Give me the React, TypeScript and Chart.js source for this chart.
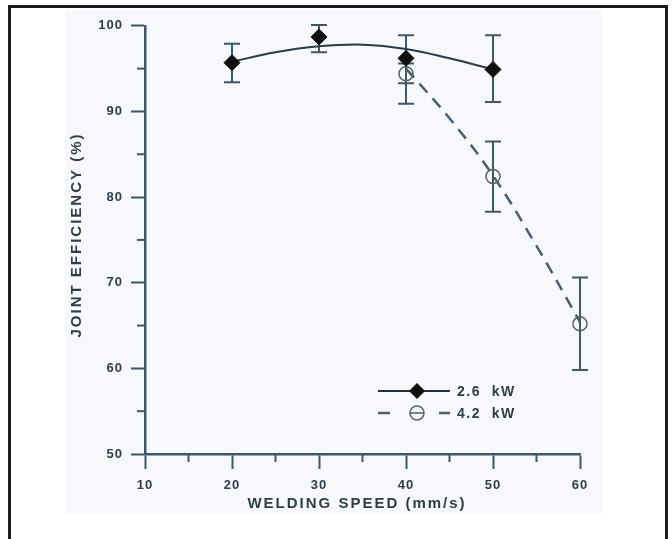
import React, { useEffect, useRef } from "react";
import { Chart, registerables } from "chart.js";

Chart.register(...registerables);

// ---- data ----
const speeds26 = [20, 30, 40, 50];
const eff26 = [95.7, 98.7, 96.2, 94.9];
const err26Hi = [97.9, 100.1, 98.9, 98.9];
const err26Lo = [93.4, 96.9, 90.9, 91.1];

const speeds42 = [40, 50, 60];
const eff42 = [94.4, 82.4, 65.2];
const err42Hi = [95.6, 86.5, 70.6];
const err42Lo = [93.3, 78.3, 59.8];

// fitted curves as drawn in the reference
const fit26X = [20, 25, 30, 35, 40, 45, 50];
const fit26Y = [95.8, 96.9, 97.6, 97.8, 97.3, 96.2, 94.9];
const fit42X = [40, 45, 50, 55, 60];
const fit42Y = [95.0, 89.2, 82.5, 74.3, 65.4];

const xMinorTicks = [15, 25, 35, 45, 55];
const yMinorTicks = [55, 65, 75, 85, 95];
const xTitle = "WELDING SPEED (mm/s)";
const yTitle = "JOINT EFFICIENCY (%)";
const legendLabels = ["2.6  kW", "4.2  kW"];

const AXIS = "#3f5767";
const TEXT = "#2e3d4a";
const FONT = '"Liberation Sans", Arial, sans-serif';

const toPts = (xs: number[], ys: number[]) => xs.map((x, i) => ({ x, y: ys[i] }));

const decorPlugin = {
  id: "decor",
  beforeDraw(chart: any) {
    chart.ctx.letterSpacing = "1px";
  },
  beforeDatasetsDraw(chart: any) {
    const { ctx, scales } = chart;
    const xs = scales.x;
    const ys = scales.y;
    ctx.save();
    ctx.strokeStyle = AXIS;
    ctx.lineWidth = 2;
    const bars: [number[], number[], number[]][] = [
      [speeds26, err26Lo, err26Hi],
      [speeds42, err42Lo, err42Hi],
    ];
    bars.forEach(([sx, lo, hi]) => {
      sx.forEach((s, i) => {
        const px = xs.getPixelForValue(s);
        const pLo = ys.getPixelForValue(lo[i]);
        const pHi = ys.getPixelForValue(hi[i]);
        ctx.beginPath();
        ctx.moveTo(px, pLo);
        ctx.lineTo(px, pHi);
        ctx.moveTo(px - 8, pLo);
        ctx.lineTo(px + 8, pLo);
        ctx.moveTo(px - 8, pHi);
        ctx.lineTo(px + 8, pHi);
        ctx.stroke();
      });
    });
    ctx.restore();
  },
  afterDraw(chart: any) {
    const { ctx, scales } = chart;
    const xs = scales.x;
    const ys = scales.y;
    ctx.save();
    // minor ticks
    ctx.strokeStyle = AXIS;
    ctx.lineWidth = 2;
    const axisY = ys.getPixelForValue(50);
    const axisX = xs.getPixelForValue(10);
    xMinorTicks.forEach((v) => {
      const px = xs.getPixelForValue(v);
      ctx.beginPath();
      ctx.moveTo(px, axisY);
      ctx.lineTo(px, axisY + 8);
      ctx.stroke();
    });
    yMinorTicks.forEach((v) => {
      const py = ys.getPixelForValue(v);
      ctx.beginPath();
      ctx.moveTo(axisX, py);
      ctx.lineTo(axisX - 8, py);
      ctx.stroke();
    });

    // axis titles
    ctx.fillStyle = TEXT;
    ctx.font = `bold 15px ${FONT}`;
    ctx.letterSpacing = "2px";
    ctx.textAlign = "center";
    ctx.textBaseline = "middle";
    ctx.fillText(xTitle, 292, 494);
    ctx.save();
    ctx.translate(12, 225);
    ctx.rotate(-Math.PI / 2);
    ctx.fillText(yTitle, 0, 0);
    ctx.restore();

    // legend
    const lx0 = 313;
    const lx1 = 385;
    const mx = 352;
    const ly1 = 381;
    const ly2 = 403;
    ctx.strokeStyle = "#22303b";
    ctx.lineWidth = 2;
    ctx.beginPath();
    ctx.moveTo(lx0, ly1);
    ctx.lineTo(lx1, ly1);
    ctx.stroke();
    ctx.fillStyle = "#111";
    ctx.beginPath();
    ctx.moveTo(mx, ly1 - 8);
    ctx.lineTo(mx + 8, ly1);
    ctx.lineTo(mx, ly1 + 8);
    ctx.lineTo(mx - 8, ly1);
    ctx.closePath();
    ctx.fill();

    ctx.strokeStyle = "#4b5f6e";
    ctx.lineWidth = 2.5;
    ctx.beginPath();
    ctx.moveTo(lx0, ly2);
    ctx.lineTo(lx0 + 12, ly2);
    ctx.moveTo(lx1 - 11, ly2);
    ctx.lineTo(lx1, ly2);
    ctx.stroke();
    ctx.lineWidth = 1.5;
    ctx.strokeStyle = "#52626e";
    ctx.beginPath();
    ctx.arc(mx, ly2, 7, 0, Math.PI * 2);
    ctx.moveTo(mx - 7, ly2);
    ctx.lineTo(mx + 7, ly2);
    ctx.stroke();

    ctx.fillStyle = TEXT;
    ctx.font = `bold 14px ${FONT}`;
    ctx.letterSpacing = "1.5px";
    ctx.textAlign = "left";
    ctx.fillText(legendLabels[0], 392, ly1 + 1);
    ctx.fillText(legendLabels[1], 392, ly2 + 1);
    ctx.restore();
  },
};

export default function App() {
  const ref = useRef<HTMLCanvasElement | null>(null);

  useEffect(() => {
    if (!ref.current) return;
    const chart = new Chart(ref.current, {
      type: "scatter",
      data: {
        datasets: [
          {
            label: "2.6 kW",
            data: toPts(speeds26, eff26),
            showLine: false,
            pointStyle: "rectRot",
            pointRadius: 8,
            backgroundColor: "#111",
            borderColor: "#111",
            borderWidth: 1,
            clip: false,
          },
          {
            label: "4.2 kW",
            data: toPts(speeds42, eff42),
            showLine: false,
            pointStyle: "circle",
            pointRadius: 7,
            backgroundColor: "rgba(0,0,0,0)",
            borderColor: "#52626e",
            borderWidth: 1.5,
            clip: false,
          },
          {
            label: "fit 2.6",
            data: toPts(fit26X, fit26Y),
            showLine: true,
            pointRadius: 0,
            borderColor: "#2c3a46",
            borderWidth: 2,
            tension: 0.4,
            clip: false,
          },
          {
            label: "fit 4.2",
            data: toPts(fit42X, fit42Y),
            showLine: true,
            pointRadius: 0,
            borderColor: "#4b5f6e",
            borderWidth: 2.5,
            borderDash: [12, 8],
            tension: 0.4,
            clip: false,
          },
        ],
      },
      options: {
        animation: false,
        responsive: true,
        maintainAspectRatio: false,
        layout: { padding: { left: 0, top: 9, right: 22, bottom: 0 } },
        plugins: {
          legend: { display: false },
          tooltip: { enabled: false },
        },
        scales: {
          x: {
            type: "linear",
            min: 10,
            max: 60,
            afterFit: (s: any) => {
              s.height = 60;
            },
            ticks: {
              stepSize: 10,
              color: TEXT,
              font: { family: FONT, size: 13, weight: "bold" },
              padding: 9,
              maxRotation: 0,
              autoSkip: false,
            },
            grid: {
              drawOnChartArea: false,
              drawTicks: true,
              tickLength: 15,
              tickWidth: 2,
              tickColor: AXIS,
            },
            border: { color: AXIS, width: 2.5 },
          },
          y: {
            type: "linear",
            min: 50,
            max: 100,
            afterFit: (s: any) => {
              s.width = 80;
            },
            ticks: {
              stepSize: 10,
              color: TEXT,
              font: { family: FONT, size: 13, weight: "bold" },
              padding: 8,
              autoSkip: false,
            },
            grid: {
              drawOnChartArea: false,
              drawTicks: true,
              tickLength: 14,
              tickWidth: 2,
              tickColor: AXIS,
            },
            border: { color: AXIS, width: 2.5 },
          },
        },
      },
      plugins: [decorPlugin],
    } as any);
    return () => chart.destroy();
  }, []);

  return (
    <div>
      <div
        style={{
          position: "fixed",
          left: 8,
          top: 5,
          width: 660,
          height: 600,
          boxSizing: "border-box",
          border: "3px solid #1c1c1c",
          background: "#ffffff",
        }}
      />
      <div
        style={{
          position: "fixed",
          left: 65,
          top: 10,
          width: 537,
          height: 504,
          background: "#f6f8fb",
        }}
      >
        <canvas ref={ref} />
      </div>
    </div>
  );
}
